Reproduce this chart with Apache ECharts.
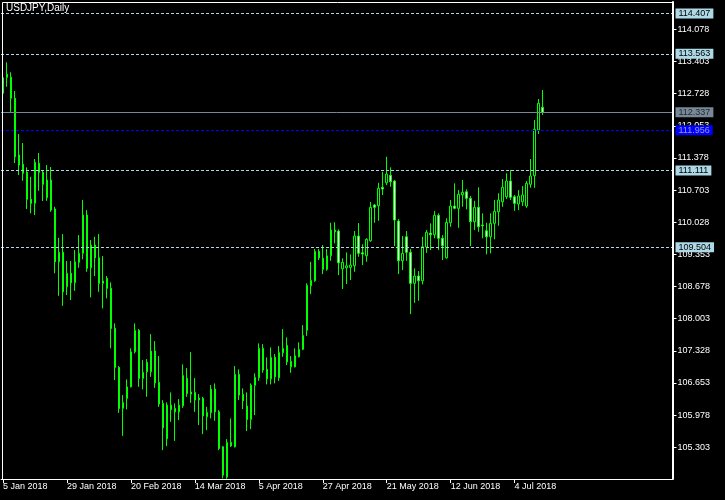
<!DOCTYPE html>
<html><head><meta charset="utf-8">
<script src="https://cdn.jsdelivr.net/npm/echarts@6/dist/echarts.min.js"></script>
<style>html,body{margin:0;padding:0;background:#000;}#c{width:725px;height:500px;}</style>
</head><body><div id="c"></div>
<script>
const dates = [
'5 Jan 2018','8 Jan 2018','9 Jan 2018','10 Jan 2018','11 Jan 2018','12 Jan 2018','15 Jan 2018','16 Jan 2018','17 Jan 2018','18 Jan 2018','19 Jan 2018','22 Jan 2018','23 Jan 2018','24 Jan 2018','25 Jan 2018','26 Jan 2018','29 Jan 2018','30 Jan 2018','31 Jan 2018',
'1 Feb 2018','2 Feb 2018','5 Feb 2018','6 Feb 2018','7 Feb 2018','8 Feb 2018','9 Feb 2018','12 Feb 2018','13 Feb 2018','14 Feb 2018','15 Feb 2018','16 Feb 2018','19 Feb 2018','20 Feb 2018','21 Feb 2018','22 Feb 2018','23 Feb 2018','26 Feb 2018','27 Feb 2018','28 Feb 2018',
'1 Mar 2018','2 Mar 2018','5 Mar 2018','6 Mar 2018','7 Mar 2018','8 Mar 2018','9 Mar 2018','12 Mar 2018','13 Mar 2018','14 Mar 2018','15 Mar 2018','16 Mar 2018','19 Mar 2018','20 Mar 2018','21 Mar 2018','22 Mar 2018','23 Mar 2018','26 Mar 2018','27 Mar 2018','28 Mar 2018','29 Mar 2018','30 Mar 2018',
'2 Apr 2018','3 Apr 2018','4 Apr 2018','5 Apr 2018','6 Apr 2018','9 Apr 2018','10 Apr 2018','11 Apr 2018','12 Apr 2018','13 Apr 2018','16 Apr 2018','17 Apr 2018','18 Apr 2018','19 Apr 2018','20 Apr 2018','23 Apr 2018','24 Apr 2018','25 Apr 2018','26 Apr 2018','27 Apr 2018','30 Apr 2018',
'1 May 2018','2 May 2018','3 May 2018','4 May 2018','7 May 2018','8 May 2018','9 May 2018','10 May 2018','11 May 2018','14 May 2018','15 May 2018','16 May 2018','17 May 2018','18 May 2018','21 May 2018','22 May 2018','23 May 2018','24 May 2018','25 May 2018','28 May 2018','29 May 2018','30 May 2018','31 May 2018',
'1 Jun 2018','4 Jun 2018','5 Jun 2018','6 Jun 2018','7 Jun 2018','8 Jun 2018','11 Jun 2018','12 Jun 2018','13 Jun 2018','14 Jun 2018','15 Jun 2018','18 Jun 2018','19 Jun 2018','20 Jun 2018','21 Jun 2018','22 Jun 2018','25 Jun 2018','26 Jun 2018','27 Jun 2018','28 Jun 2018','29 Jun 2018',
'2 Jul 2018','3 Jul 2018','4 Jul 2018','5 Jul 2018','6 Jul 2018','9 Jul 2018','10 Jul 2018','11 Jul 2018','12 Jul 2018','13 Jul 2018'
];
const opens = [
112.734,113.133,113.070,112.629,111.438,111.243,111.075,110.508,110.424,111.264,111.075,110.541,110.913,110.304,109.197,109.395,108.672,108.954,108.756,109.185,
109.374,110.178,109.071,109.548,109.281,108.792,108.849,108.639,107.799,106.980,106.119,106.329,106.572,107.307,107.757,106.749,107.085,106.887,107.322,106.665,
106.224,105.480,106.188,106.119,106.047,106.173,106.749,106.461,106.455,106.335,106.329,105.942,106.026,106.524,106.047,105.312,104.676,105.405,105.312,106.833,
106.413,106.167,105.888,106.602,106.761,107.379,106.938,106.740,107.190,106.761,107.286,107.442,107.106,106.992,107.202,107.358,107.757,108.693,108.798,109.416,
109.269,109.038,109.323,109.863,109.842,109.050,109.071,109.080,109.113,109.737,109.386,109.323,109.638,110.388,110.373,110.760,110.856,111.012,110.892,110.052,
109.218,109.722,109.395,108.744,108.897,108.798,109.506,109.800,109.764,110.172,109.689,109.281,110.016,110.367,110.319,110.604,110.667,110.529,110.037,110.340,
109.968,109.848,109.722,110.004,110.247,110.457,110.562,110.892,110.562,110.409,110.457,110.367,110.823,111.003,111.963,112.440
];
const highs = [
113.181,113.385,113.175,112.782,111.879,111.690,111.180,110.982,111.354,111.480,111.123,111.228,111.186,110.352,109.701,109.779,109.212,109.212,109.443,109.758,
110.493,110.283,109.653,109.722,109.779,109.317,108.897,108.765,107.904,107.007,106.398,106.728,107.379,107.904,107.784,107.133,107.154,107.679,107.532,107.217,
106.293,106.245,106.455,106.224,106.314,107.043,106.965,107.301,106.755,106.419,106.362,106.152,106.608,106.644,106.083,105.327,105.474,105.909,107.007,106.938,
106.539,106.455,106.644,106.854,107.484,107.469,107.190,107.400,107.259,107.427,107.784,107.610,107.217,107.379,107.505,107.868,108.744,109.197,109.464,109.464,
109.548,109.464,110.016,110.025,109.878,109.269,109.395,109.353,109.842,110.010,109.563,109.689,110.451,110.409,110.856,111.087,111.402,111.180,110.913,110.094,
109.737,109.842,109.464,109.059,109.002,109.722,109.863,110.004,110.262,110.214,109.758,110.109,110.493,110.844,110.703,110.913,110.718,110.577,110.478,110.760,
110.214,110.016,110.214,110.493,110.634,110.934,111.054,111.123,110.598,110.703,110.787,110.892,111.354,112.173,112.614,112.803
];
const lows = [
112.677,112.872,112.347,111.270,111.018,110.898,110.304,110.214,110.178,110.688,110.472,110.478,110.247,108.954,108.483,108.273,108.498,108.393,108.588,109.071,
109.248,108.987,108.450,108.897,108.567,108.219,108.429,107.379,106.713,106.026,105.543,106.098,106.560,107.274,106.572,106.518,106.362,106.782,106.551,106.152,
105.243,105.327,105.837,105.438,105.873,106.131,106.362,106.236,106.047,105.768,105.579,105.663,105.909,105.858,105.243,104.649,104.640,105.312,105.300,106.293,
106.104,105.642,105.684,105.978,106.698,106.866,106.623,106.623,106.644,106.698,107.202,107.028,106.866,106.980,107.190,107.343,107.643,108.519,108.777,109.233,
108.939,109.008,109.218,109.584,108.918,108.624,108.729,108.813,108.987,109.302,109.128,109.197,109.617,110.016,110.058,110.598,110.808,110.772,109.527,108.939,
109.023,109.218,108.099,108.336,108.378,108.723,109.386,109.443,109.689,109.443,109.233,109.260,109.932,110.298,109.911,110.352,110.298,109.527,109.863,109.827,
109.689,109.353,109.374,109.668,109.953,110.352,110.514,110.493,110.268,110.283,110.367,110.331,110.751,110.751,111.879,112.278
];
const closes = [
113.061,113.070,112.629,111.402,111.228,111.054,110.508,110.424,111.285,111.075,110.823,110.913,110.283,109.197,109.395,108.567,108.954,108.756,109.197,109.374,
110.178,109.059,109.548,109.281,108.744,108.744,108.639,107.799,106.980,106.119,106.245,106.572,107.307,107.757,106.749,106.875,106.887,107.322,106.656,106.209,
105.711,106.188,106.098,106.047,106.188,106.812,106.434,106.419,106.293,106.299,105.963,106.035,106.524,106.047,105.279,104.718,105.405,105.330,106.833,106.398,
106.278,105.888,106.608,106.770,107.379,106.923,106.740,107.190,106.782,107.295,107.379,107.097,106.992,107.223,107.358,107.652,108.702,108.807,109.416,109.281,
109.038,109.323,109.863,109.827,109.176,109.185,109.113,109.128,109.737,109.374,109.359,109.668,110.340,110.340,110.739,110.724,111.039,110.877,110.073,109.218,
109.374,109.395,108.744,108.897,108.798,109.512,109.815,109.764,110.172,109.689,109.533,110.025,110.367,110.319,110.613,110.655,110.529,110.037,110.340,109.932,
109.953,109.722,110.004,110.256,110.493,110.760,110.892,110.550,110.424,110.577,110.598,110.844,110.997,111.978,112.524,112.337
];
const yTicks = [114.078,113.403,112.728,112.053,111.378,110.703,110.028,109.353,108.678,108.003,107.328,106.653,105.978,105.303];
const userLevels = [114.407,113.563,111.111,109.504];
const bidLevel = 112.337;
const blueLevel = 111.956;
const yMin = 104.637, yMax = 114.651;

const FONT = 'Liberation Sans';
const emptySlots = 32;
const xCats = dates.concat(new Array(emptySlots).fill(''));
const candleData = opens.map((o, i) => [o, closes[i], lows[i], highs[i]]);
const showDateIdx = (i, v) => v !== '' && i % 16 === 0;

function levelItem(v, color, dash, textColor) {
  return {
    yAxis: v,
    lineStyle: { color: color, type: dash, width: 1 },
    label: { backgroundColor: color, color: textColor }
  };
}

const chart = echarts.init(document.getElementById('c'), null, { renderer: 'canvas' });
chart.setOption({
  animation: false,
  backgroundColor: '#000',
  title: {
    text: 'USDJPY,Daily', left: 6, top: 3, padding: 0,
    textStyle: { color: '#fff', fontSize: 10, fontWeight: 'normal', fontFamily: FONT }
  },
  grid: [
    { left: 0.5, right: 52.5, top: 2, bottom: 21 },
    { left: 2.5, right: 52.5, top: 2.5, bottom: 20.5, show: true, borderColor: '#fff', borderWidth: 1, backgroundColor: 'transparent', z: 10 }
  ],
  xAxis: [
    {
      type: 'category', gridIndex: 0, data: xCats, boundaryGap: true,
      axisLine: { show: true, lineStyle: { color: '#fff', width: 1 } },
      axisTick: { show: true, alignWithLabel: true, interval: showDateIdx, length: 4, lineStyle: { color: '#fff' } },
      axisLabel: { show: true, interval: showDateIdx, align: 'left', color: '#fff', fontSize: 9, fontFamily: FONT, margin: 3 },
      splitLine: { show: false }
    },
    { type: 'value', gridIndex: 1, show: false }
  ],
  yAxis: [
    {
      type: 'value', gridIndex: 0, position: 'right', min: yMin, max: yMax, scale: true,
      axisLine: { show: true, lineStyle: { color: '#fff', width: 2 } },
      axisTick: { show: true, customValues: yTicks, length: 4, lineStyle: { color: '#fff' } },
      axisLabel: { show: true, customValues: yTicks, formatter: v => Number(v).toFixed(3), color: '#fff', fontSize: 9, fontFamily: FONT, margin: 5 },
      splitLine: { show: false }
    },
    { type: 'value', gridIndex: 1, show: false }
  ],
  series: [{
    type: 'candlestick',
    xAxisIndex: 0, yAxisIndex: 0,
    data: candleData,
    barWidth: 2,
    itemStyle: { color: '#000', color0: '#fff', borderColor: '#00ff00', borderColor0: '#00ff00', borderWidth: 1 },
    markLine: {
      silent: true,
      symbol: ['none', 'none'],
      precision: 3,
      label: {
        show: true, position: 'end', distance: 3,
        formatter: p => Number(p.value).toFixed(3),
        fontSize: 9, fontFamily: FONT, padding: [0, 3], lineHeight: 10
      },
      data: userLevels.map(v => levelItem(v, '#add8e6', [3, 2], '#000'))
        .concat([levelItem(bidLevel, '#778899', 'solid', '#2a2a2a'), levelItem(blueLevel, '#0000ff', [3, 2], '#9a9ad8')])
    }
  }]
});
</script>
</body></html>
